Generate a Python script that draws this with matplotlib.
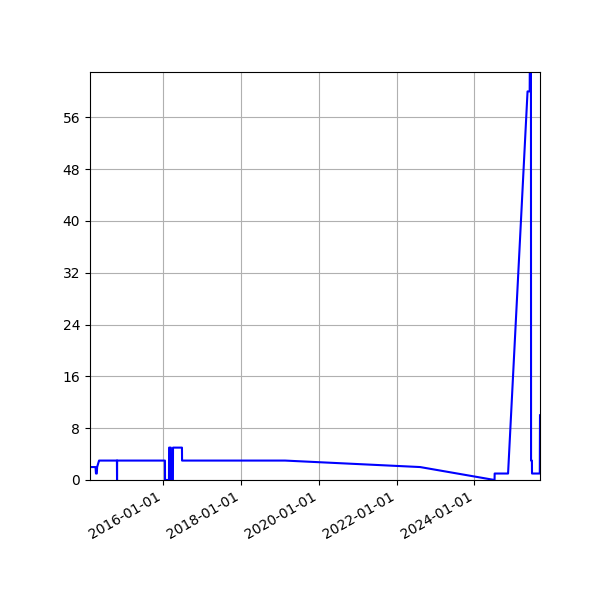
import matplotlib
matplotlib.use("Agg")
import matplotlib.pyplot as plt
import matplotlib.dates as mdates
import pandas as pd

dates = [
    "2014-02-11", "2014-04-04", "2014-04-08", "2014-04-16", "2014-04-19",
    "2014-04-28", "2014-05-07", "2014-05-15", "2014-10-22", "2014-10-23",
    "2014-10-24", "2016-01-16", "2016-01-17", "2016-02-23", "2016-02-24",
    "2016-03-12", "2016-03-13", "2016-03-31", "2016-04-01", "2016-06-24",
    "2016-06-25", "2019-02-17", "2022-08-09", "2024-07-09", "2024-07-10",
    "2024-11-13", "2025-05-15", "2025-06-04", "2025-06-05", "2025-06-16",
    "2025-06-17", "2025-06-25", "2025-06-26", "2025-09-07", "2025-09-09",
]
counts = [
    2, 2, 1, 1, 2,
    2.5, 3, 3, 3, 0,
    3, 3, 0, 0, 5,
    5, 0, 0, 5, 5,
    3, 3, 2, 0, 1,
    1, 60, 60, 63, 63,
    3, 3, 1, 1, 10,
]

x = pd.to_datetime(dates)

fig, ax = plt.subplots(figsize=(6, 6), dpi=100)
ax.plot(x, counts, color='blue')
ax.set_xlim(x.min(), x.max())
ax.set_ylim(0, max(counts))
ax.xaxis.set_major_locator(mdates.YearLocator(2))
ax.xaxis.set_major_formatter(mdates.DateFormatter('%Y-%m-%d'))
ax.yaxis.set_major_locator(plt.MultipleLocator(8))
ax.grid(True)
fig.autofmt_xdate()
fig.subplots_adjust(left=0.15, right=0.9, top=0.88, bottom=0.2)
fig.savefig("out.png")
